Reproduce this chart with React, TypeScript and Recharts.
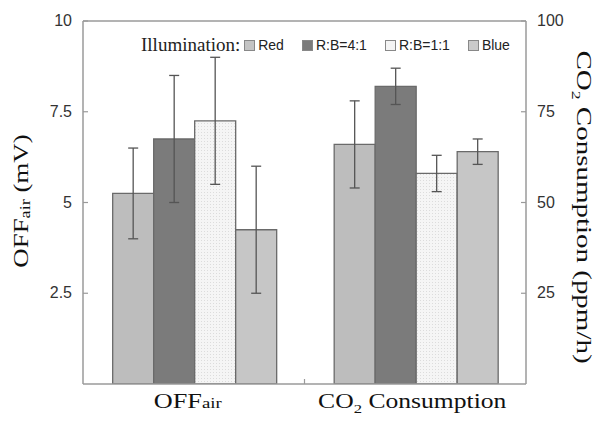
import React from 'react';
import { ComposedChart, Bar, Line, XAxis, YAxis, ErrorBar, Legend, ReferenceLine } from 'recharts';

const categories = ['OFFair', 'CO2 Consumption'];
const seriesNames = ['Red', 'R:B=4:1', 'R:B=1:1', 'Blue'];

// OFFair (mV)
const offAirValues = [5.25, 6.75, 7.25, 4.25];
const offAirErrors = [1.25, 1.75, 1.75, 1.75];
// CO2 consumption (ppm/h)
const co2Values = [66, 82, 58, 64];
const co2Errors = [12, 5, 5, 3.5];

const leftTicks = [2.5, 5, 7.5, 10];
const rightTicks = [25, 50, 75, 100];

const fills = ['#bdbdbd', '#7b7b7b', 'url(#dots)', '#c6c6c6'];
const swatches = ['#c4c4c4', '#7b7b7b', '#f4f4f4', '#cacaca'];

// the right axis is 10x the left, so CO2 bars are drawn in left-axis units
const CO2_RATIO = 10;

const data = categories.map((name, ci) => {
  const row: any = { name };
  seriesNames.forEach((_, si) => {
    row['v' + si] = ci === 0 ? offAirValues[si] : co2Values[si] / CO2_RATIO;
    row['e' + si] = ci === 0 ? offAirErrors[si] : co2Errors[si] / CO2_RATIO;
  });
  // raw CO2 max, only to bind the right axis
  row.co2 = ci === 1 ? Math.max(...co2Values) : null;
  return row;
});

const W = 595;
const H = 421;
const LEFT_W = 83;
const RIGHT_W = 69;
const TOP = 21;
const XAXIS_H = 37;
const BAND = (W - LEFT_W - RIGHT_W) / categories.length;

const serif = '"Liberation Serif", "DejaVu Serif", serif';
const sans = '"Liberation Sans", Arial, sans-serif';
const axisColor = '#9a9a9a';

// the original titles use a wide serif face, so stretch glyphs horizontally
const wide = (cx: number, cy: number, sx: number, rot = 0) =>
  `rotate(${rot} ${cx} ${cy}) translate(${cx} ${cy}) scale(${sx} 1) translate(${-cx} ${-cy})`;

const LeftTick = (props: any) => {
  const { x, y, payload } = props;
  return (
    <g>
      <line x1={x + 11} x2={x + 16} y1={y} y2={y} stroke={axisColor} strokeWidth={1.2} />
      <text x={x} y={y} dy={5} textAnchor="end" fontFamily={sans} fontSize={16} fill="#333">
        {payload.value}
      </text>
    </g>
  );
};

const RightTick = (props: any) => {
  const { x, y, payload } = props;
  return (
    <g>
      <line x1={x - 11} x2={x - 16} y1={y} y2={y} stroke={axisColor} strokeWidth={1.2} />
      <text x={x} y={y} dy={5} textAnchor="start" fontFamily={sans} fontSize={16} fill="#333">
        {payload.value}
      </text>
    </g>
  );
};

const BottomTick = (props: any) => {
  const { x, y, payload, index } = props;
  const axisY = y - 8;
  const ty = axisY + 24;
  return (
    <g>
      {index === 0 && (
        <line x1={x + BAND / 2} x2={x + BAND / 2} y1={axisY} y2={axisY - 5} stroke={axisColor} strokeWidth={1.2} />
      )}
      {payload.value === 'OFFair' ? (
        <text
          x={x - 6}
          y={ty}
          transform={wide(x - 6, ty, 1.25)}
          textAnchor="middle"
          fontFamily={serif}
          fontSize={21}
          fill="#111"
        >
          OFF<tspan fontSize={15}>air</tspan>
        </text>
      ) : (
        <text
          x={x - 3}
          y={ty}
          transform={wide(x - 3, ty, 1.28)}
          textAnchor="middle"
          fontFamily={serif}
          fontSize={20}
          fill="#111"
        >
          CO<tspan fontSize={13} dy={5}>2</tspan>
          <tspan dy={-5}> Consumption</tspan>
        </text>
      )}
    </g>
  );
};

const LeftLabel = () => {
  const cx = 28;
  const cy = 201;
  return (
    <text
      x={cx}
      y={cy}
      transform={wide(cx, cy, 1.22, -90)}
      textAnchor="middle"
      fontFamily={serif}
      fontSize={22}
      fill="#111"
    >
      OFF<tspan fontSize={15} dy={2}>air</tspan>
      <tspan dy={-2}>{'  (mV)'}</tspan>
    </text>
  );
};

const RightLabel = () => {
  const cx = 577;
  const cy = 207;
  return (
    <text
      x={cx}
      y={cy}
      transform={wide(cx, cy, 1.38, 90)}
      textAnchor="middle"
      fontFamily={serif}
      fontSize={21}
      fill="#111"
    >
      CO<tspan fontSize={13} dy={5}>2</tspan>
      <tspan dy={-5}> Consumption (ppm/h)</tspan>
    </text>
  );
};

const LegendContent = () => (
  <div style={{ display: 'flex', alignItems: 'center', whiteSpace: 'nowrap' }}>
    <span style={{ fontFamily: serif, fontSize: 19, color: '#222', marginRight: 4 }}>Illumination:</span>
    {seriesNames.map((n, i) => (
      <span key={n} style={{ display: 'flex', alignItems: 'center', marginRight: 18 }}>
        <span
          style={{
            display: 'inline-block',
            width: 9,
            height: 9,
            background: swatches[i],
            border: '1px solid #888',
            marginRight: 3,
          }}
        />
        <span style={{ fontFamily: sans, fontSize: 14, color: '#222' }}>{n}</span>
      </span>
    ))}
  </div>
);

export default function App() {
  return (
    <div style={{ position: 'absolute', left: 0, top: 0, width: W, height: H, background: '#fff' }}>
      <ComposedChart
        width={W}
        height={H}
        data={data}
        margin={{ top: TOP, right: 0, bottom: 0, left: 0 }}
        barCategoryGap="13.4%"
        barGap={0}
      >
        <defs>
          <pattern id="dots" width="3" height="3" patternUnits="userSpaceOnUse">
            <rect width="3" height="3" fill="#f5f5f5" />
            <rect width="1" height="1" fill="#dcdcdc" />
          </pattern>
        </defs>
        <XAxis
          dataKey="name"
          height={XAXIS_H}
          axisLine={{ stroke: axisColor, strokeWidth: 1.5 }}
          tickLine={false}
          tickSize={0}
          tickMargin={8}
          tick={<BottomTick />}
          interval={0}
        />
        <YAxis
          yAxisId="left"
          width={LEFT_W}
          domain={[0, 10]}
          ticks={leftTicks}
          allowDataOverflow
          axisLine={{ stroke: axisColor, strokeWidth: 1.5 }}
          tickLine={false}
          tickSize={0}
          tickMargin={11}
          tick={<LeftTick />}
          label={{ content: LeftLabel }}
        />
        <YAxis
          yAxisId="right"
          orientation="right"
          width={RIGHT_W}
          domain={[0, 100]}
          ticks={rightTicks}
          allowDataOverflow
          axisLine={{ stroke: axisColor, strokeWidth: 1.5 }}
          tickLine={false}
          tickSize={0}
          tickMargin={11}
          tick={<RightTick />}
          label={{ content: RightLabel }}
        />
        <ReferenceLine yAxisId="left" y={10} stroke={axisColor} strokeWidth={1.5} />
        <Legend
          content={<LegendContent />}
          verticalAlign="middle"
          align="center"
          layout="horizontal"
          wrapperStyle={{ top: 34, left: 141, width: 'auto' }}
        />
        {seriesNames.map((n, i) => (
          <Bar
            key={n}
            yAxisId="left"
            dataKey={'v' + i}
            name={n}
            fill={fills[i]}
            stroke="#6a6a6a"
            strokeWidth={1.3}
            isAnimationActive={false}
          >
            <ErrorBar dataKey={'e' + i} width={5} stroke="#555" strokeWidth={1.3} />
          </Bar>
        ))}
        <Line
          yAxisId="right"
          dataKey="co2"
          stroke="none"
          dot={false}
          activeDot={false}
          legendType="none"
          isAnimationActive={false}
        />
      </ComposedChart>
    </div>
  );
}
